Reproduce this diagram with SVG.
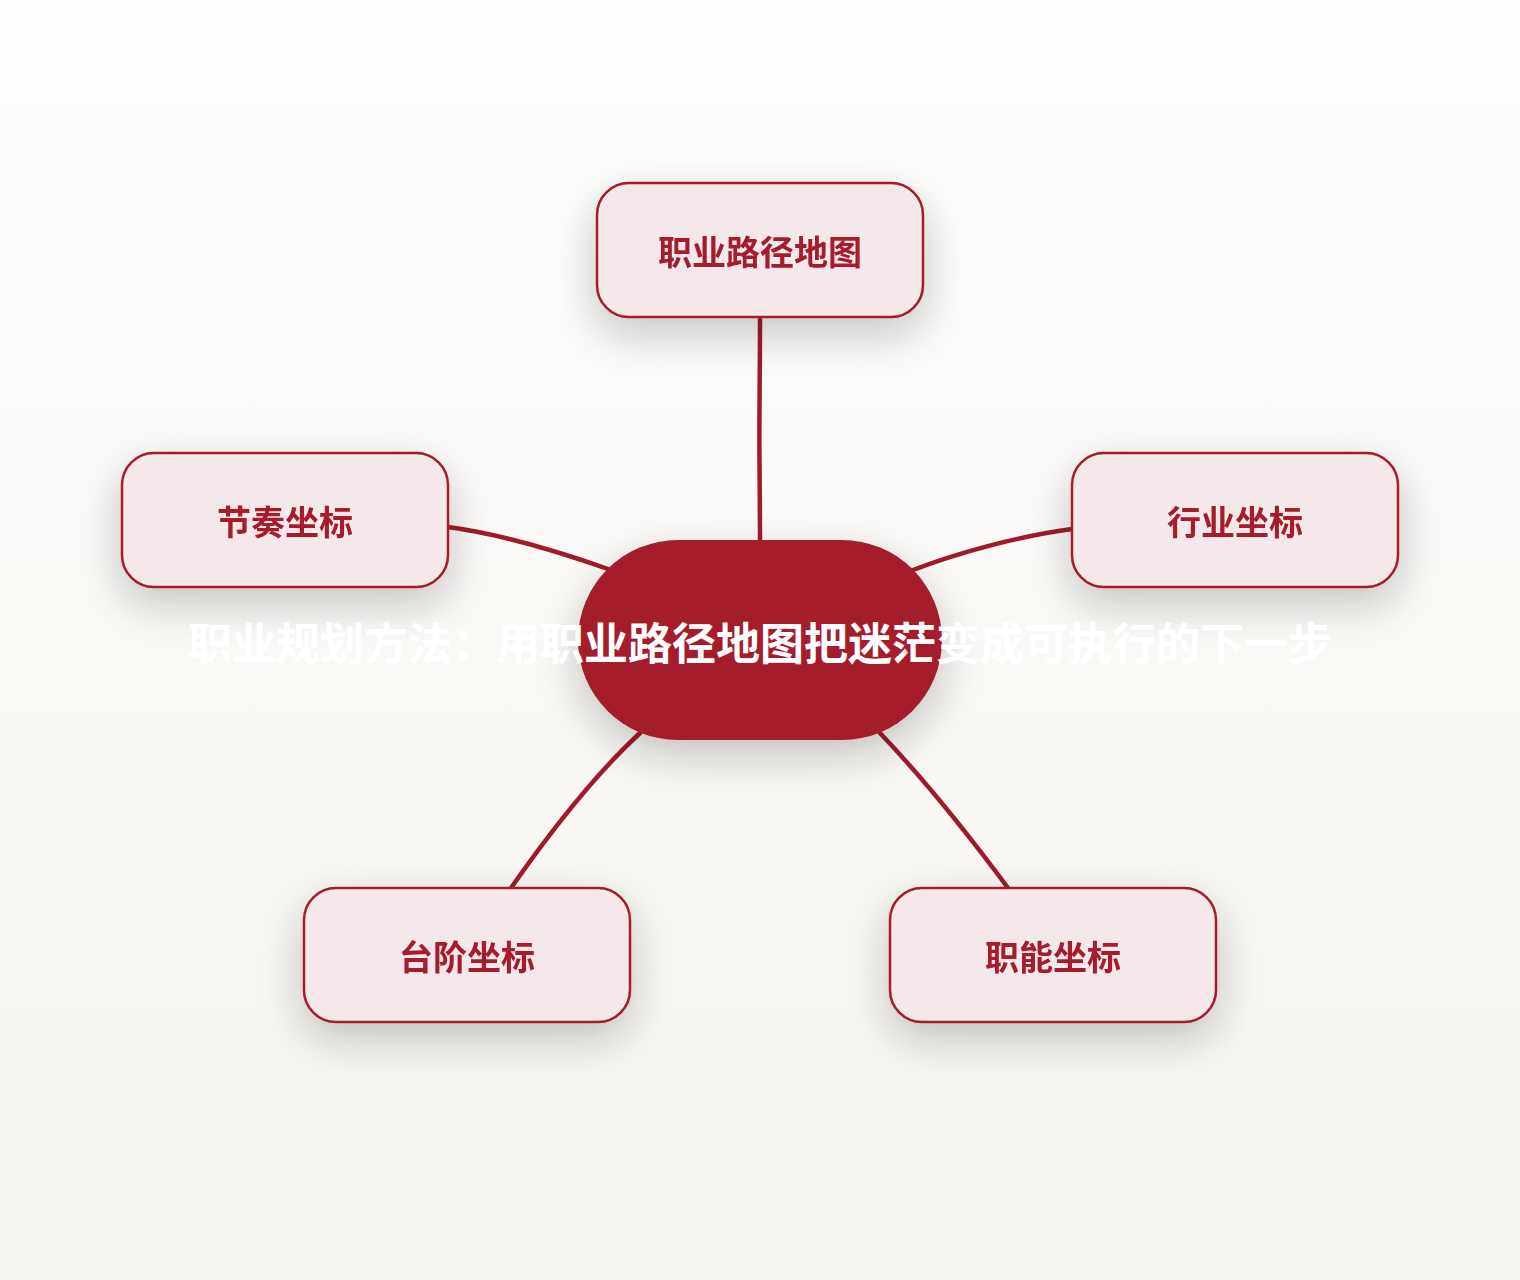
<svg xmlns="http://www.w3.org/2000/svg" width="1520" height="1280" viewBox="0 0 1520 1280">
  <defs>
    <linearGradient id="bg" x1="0" y1="0" x2="0" y2="1">
      <stop offset="0" stop-color="#fdfdfc"/>
      <stop offset="1" stop-color="#f6f4f0"/>
    </linearGradient>
    <filter id="shadow" x="-40%" y="-50%" width="180%" height="220%">
      <feGaussianBlur in="SourceAlpha" stdDeviation="22"/>
      <feOffset dx="0" dy="16" result="b"/>
      <feComponentTransfer><feFuncA type="linear" slope="0.22"/></feComponentTransfer>
      <feMerge><feMergeNode/><feMergeNode in="SourceGraphic"/></feMerge>
    </filter>
    <style>
      .box { fill: #f5e8ea; stroke: #a51b2b; stroke-width: 2.5; }
      .lbl { font-family: "Noto Sans CJK SC", "Noto Sans", sans-serif; font-weight: 700; font-size: 34px; fill: #a51b2b; text-anchor: middle; dominant-baseline: central; }
      .hub { fill: #a51b2b; }
      .hublbl { font-family: "Noto Sans CJK SC", "Noto Sans", sans-serif; font-weight: 700; font-size: 44px; fill: #ffffff; text-anchor: middle; dominant-baseline: central; }
      .edge { fill: none; stroke: #a01a2a; stroke-width: 4.5; stroke-linecap: round; stroke-linejoin: round; }
    </style>
  </defs>
  <rect x="0" y="0" width="1520" height="1280" fill="url(#bg)"/>

  <g id="connectors">
    <path class="edge" d="M760 318 C 760 380, 759 420, 759.5 460 S 760 520, 760 545"/>
    <path class="edge" d="M448 527 C 500 534, 560 552, 608 569"/>
    <path class="edge" d="M1072 529 C 1020 536, 960 552, 913 570"/>
    <path class="edge" d="M640 733 C 600 770, 555 825, 511 888"/>
    <path class="edge" d="M880 733 C 920 775, 965 830, 1008 888"/>
  </g>

  <g id="node-top" filter="url(#shadow)">
    <rect class="box" x="597" y="183" width="326" height="134" rx="32"/>
    <text class="lbl" x="760" y="250">职业路径地图</text>
  </g>
  <g id="node-left" filter="url(#shadow)">
    <rect class="box" x="122" y="453" width="326" height="134" rx="32"/>
    <text class="lbl" x="285" y="520">节奏坐标</text>
  </g>
  <g id="node-right" filter="url(#shadow)">
    <rect class="box" x="1072" y="453" width="326" height="134" rx="32"/>
    <text class="lbl" x="1235" y="520">行业坐标</text>
  </g>
  <g id="node-bottom-left" filter="url(#shadow)">
    <rect class="box" x="304" y="888" width="326" height="134" rx="32"/>
    <text class="lbl" x="467" y="955">台阶坐标</text>
  </g>
  <g id="node-bottom-right" filter="url(#shadow)">
    <rect class="box" x="890" y="888" width="326" height="134" rx="32"/>
    <text class="lbl" x="1053" y="955">职能坐标</text>
  </g>

  <g id="node-center">
    <rect class="hub" x="578" y="540" width="364" height="200" rx="100" filter="url(#shadow)"/>
    <text class="hublbl" x="760" y="641">职业规划方法：用职业路径地图把迷茫变成可执行的下一步</text>
  </g>
</svg>
